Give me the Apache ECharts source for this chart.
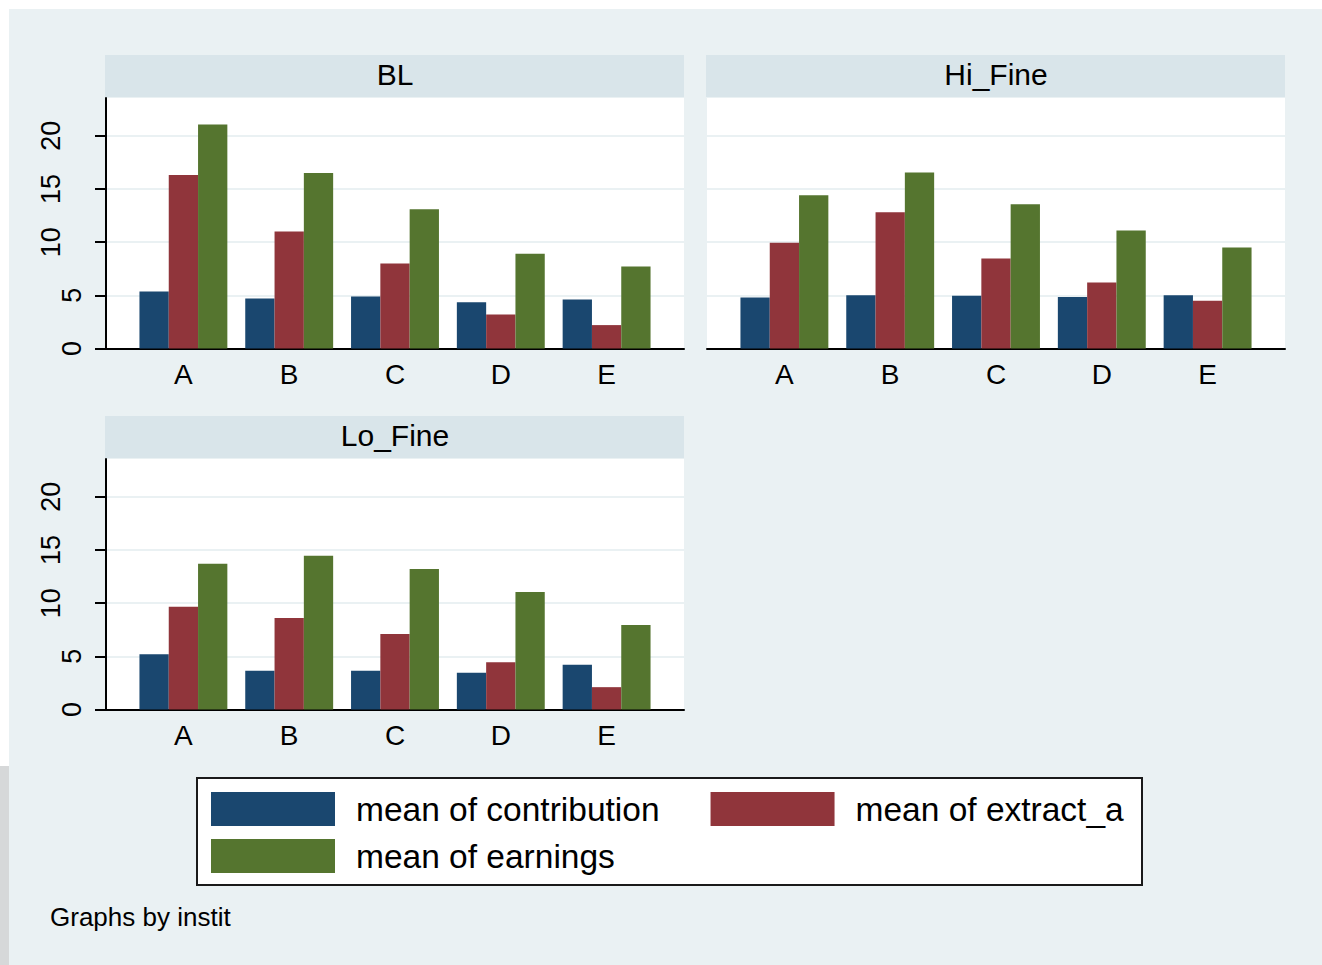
<!DOCTYPE html>
<html>
<head>
<meta charset="utf-8">
<script src="https://cdn.jsdelivr.net/npm/echarts@6/dist/echarts.min.js"></script>
<style>
html,body{margin:0;padding:0;background:#fff;}
#chart{width:1322px;height:965px;}
</style>
</head>
<body>
<div id="chart"></div>
<script>
// ---- data ----
const categories = ['A', 'B', 'C', 'D', 'E'];
const panelTitles = ['BL', 'Hi_Fine', 'Lo_Fine'];
const seriesNames = ['mean of contribution', 'mean of extract_a', 'mean of earnings'];
const yTickValues = [0, 5, 10, 15, 20];

const blContribution = [5.35, 4.7, 4.9, 4.35, 4.6];
const blExtract      = [16.3, 11.0, 8.0, 3.2, 2.2];
const blEarnings     = [21.05, 16.5, 13.1, 8.9, 7.7];

const hiContribution = [4.8, 5.0, 4.95, 4.85, 5.0];
const hiExtract      = [9.95, 12.8, 8.45, 6.2, 4.5];
const hiEarnings     = [14.4, 16.55, 13.55, 11.1, 9.5];

const loContribution = [5.2, 3.65, 3.65, 3.45, 4.2];
const loExtract      = [9.65, 8.6, 7.1, 4.45, 2.1];
const loEarnings     = [13.7, 14.45, 13.2, 11.05, 7.95];

const panelData = [
  [blContribution, blExtract, blEarnings],
  [hiContribution, hiExtract, hiEarnings],
  [loContribution, loExtract, loEarnings]
];

// ---- styles / layout ----
const FONT = '"Liberation Sans", Arial, Helvetica, sans-serif';
const colors = ['#1a476f', '#90353b', '#55752f'];
const BG = '#eaf1f3';
const STRIP = '#d9e5ea';
const YMAX = 23.55;
const PW = 578, PH = 250.5;
const panels = [
  { x: 106, y: 98, yAxis: true },
  { x: 707, y: 98, yAxis: false },
  { x: 106, y: 459, yAxis: true }
];

const grid = [], xAxis = [], yAxis = [], series = [], graphics = [];

graphics.push({ type: 'rect', shape: { x: 0, y: 0, width: 1322, height: 9 }, style: { fill: '#fff' }, silent: true });
graphics.push({ type: 'rect', shape: { x: 0, y: 0, width: 9, height: 766 }, style: { fill: '#fff' }, silent: true });
graphics.push({ type: 'rect', shape: { x: 0, y: 766, width: 9, height: 199 }, style: { fill: '#d6d8d9' }, silent: true });

panels.forEach((p, i) => {
  // header strip + title
  graphics.push({ type: 'rect', shape: { x: p.x - 1, y: p.y - 43, width: PW + 1, height: 42 }, style: { fill: STRIP }, silent: true });
  graphics.push({ type: 'text', x: p.x + PW / 2, y: p.y - 24,
    style: { text: panelTitles[i], fontSize: 30, fontFamily: FONT, fill: '#000',
      align: 'center', verticalAlign: 'middle', textAlign: 'center', textVerticalAlign: 'middle' }, silent: true });

  const frameGrid = grid.length;
  grid.push({ left: p.x, top: p.y, width: PW, height: PH, show: true, backgroundColor: '#fff', borderWidth: 0 });
  const barGrid = grid.length;
  grid.push({ left: p.x + 24.5, top: p.y, width: 529, height: PH });

  xAxis.push({ gridIndex: frameGrid, type: 'value', min: 0, max: 1,
    axisLine: { show: true, onZero: false, lineStyle: { color: '#000', width: 2 } },
    axisTick: { show: false }, axisLabel: { show: false }, splitLine: { show: false } });
  const barX = xAxis.length;
  xAxis.push({ gridIndex: barGrid, type: 'category', data: categories,
    axisLine: { show: false }, axisTick: { show: false }, splitLine: { show: false },
    axisLabel: { fontSize: 28, color: '#000', fontFamily: FONT, margin: 12 } });

  yAxis.push({ gridIndex: frameGrid, type: 'value', position: 'left', min: 0, max: YMAX,
    axisLine: { show: p.yAxis, onZero: false, lineStyle: { color: '#000', width: 2 } },
    axisTick: { show: p.yAxis, length: 11, customValues: yTickValues, lineStyle: { color: '#000', width: 2 } },
    axisLabel: { show: p.yAxis, rotate: 90, customValues: [0, 5], margin: 21, fontSize: 27, color: '#000', fontFamily: FONT },
    splitLine: { show: true, lineStyle: { color: BG, width: 2 } } });
  if (p.yAxis) {
    yAxis.push({ gridIndex: frameGrid, type: 'value', position: 'left', offset: 0, min: 0, max: YMAX,
      axisLine: { show: false, onZero: false }, axisTick: { show: false }, splitLine: { show: false },
      axisLabel: { show: true, rotate: 90, customValues: [10, 15, 20], margin: 42, fontSize: 27, color: '#000', fontFamily: FONT } });
  }
  const barY = yAxis.length;
  yAxis.push({ gridIndex: barGrid, type: 'value', min: 0, max: YMAX, show: false, splitLine: { show: false } });

  panelData[i].forEach((vals, s) => {
    series.push({ type: 'bar', name: seriesNames[s], xAxisIndex: barX, yAxisIndex: barY,
      data: vals, barWidth: 29.3, barGap: '0%', itemStyle: { color: colors[s] }, silent: true });
  });
});

// legend frame
graphics.push({ type: 'rect', shape: { x: 197, y: 778, width: 945, height: 107 },
  style: { fill: '#fff', stroke: '#1a1a1a', lineWidth: 2 }, silent: true });
graphics.push({ type: 'text', x: 50, y: 917,
  style: { text: 'Graphs by instit', fontSize: 26, fontFamily: FONT, fill: '#000',
    align: 'left', verticalAlign: 'middle', textAlign: 'left', textVerticalAlign: 'middle' }, silent: true });

const legendCommon = { left: 211, padding: 0, itemWidth: 124, itemHeight: 34, itemGap: 51, icon: 'rect',
  selectedMode: false, z: 10, textStyle: { fontSize: 33.5, color: '#000', fontFamily: FONT, padding: [0, 0, 0, 16] } };

const chart = echarts.init(document.getElementById('chart'), null, { renderer: 'svg' });
chart.setOption({
  backgroundColor: BG,
  animation: false,
  grid, xAxis, yAxis, series,
  legend: [
    Object.assign({}, legendCommon, { top: 792, data: [seriesNames[0], seriesNames[1]] }),
    Object.assign({}, legendCommon, { top: 839, data: [seriesNames[2]] })
  ],
  graphic: { elements: graphics }
});
</script>
</body>
</html>
